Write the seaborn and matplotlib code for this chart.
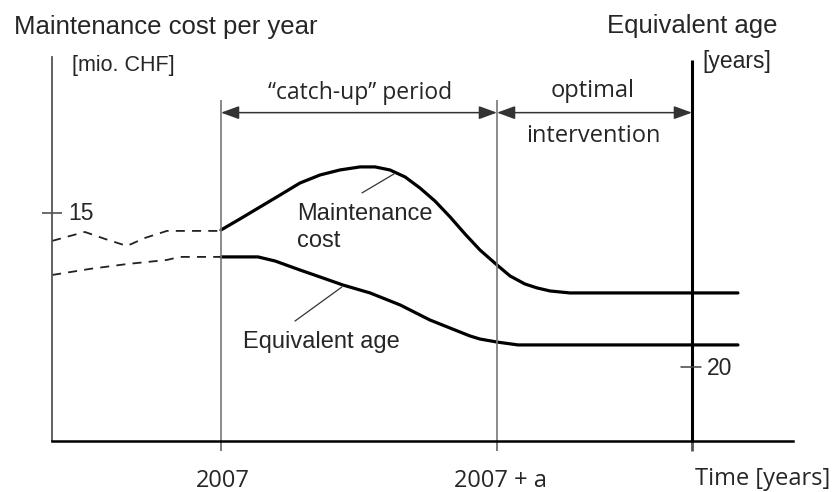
import matplotlib
matplotlib.use('Agg')
import matplotlib.pyplot as plt
import seaborn as sns

# time axis: years after 2007 (a = 10 for the sketch), cost in mio. CHF
hist_t = [-6.12, -5.47, -4.93, -4.20, -3.41, -2.75, -1.96, -1.12, 0.0]
hist_cost = [13.16, 13.49, 13.75, 13.29, 12.83, 13.36, 13.82, 13.82, 13.82]
hist_age_t = [-6.12, -4.75, -3.41, -1.96, -1.49, 0.0]
hist_age = [10.92, 11.32, 11.64, 11.91, 12.11, 12.11]

cost_t = [0.0, 0.69, 1.41, 2.14, 2.86, 3.59, 4.31, 5.04, 5.58, 6.12, 6.67,
          7.21, 7.75, 8.30, 8.84, 9.38, 10.0, 10.47, 11.01, 11.45, 11.92,
          12.64, 13.73, 18.73]
cost = [13.88, 14.61, 15.39, 16.18, 16.97, 17.50, 17.83, 18.03, 18.03, 17.83,
        17.37, 16.64, 15.79, 14.74, 13.62, 12.57, 11.58, 10.86, 10.33, 10.07,
        9.87, 9.74, 9.74, 9.74]

age_t = [0.0, 1.34, 1.96, 2.86, 3.59, 4.42, 5.40, 6.49, 7.57, 8.48, 9.02,
         9.38, 10.0, 10.76, 18.73]
age = [12.11, 12.11, 11.84, 11.25, 10.79, 10.26, 9.74, 8.95, 7.96, 7.30,
       6.91, 6.71, 6.51, 6.32, 6.32]

t_start, t_end, t_age_axis = 0.0, 10.0, 17.065
xticks = [t_start, t_end, t_age_axis]

sns.set_style('white')
plt.rcParams['font.family'] = ['Liberation Sans', 'DejaVu Sans']
myriad = ['Open Sans', 'DejaVu Sans']

fig = plt.figure(figsize=(8.33, 4.92), dpi=100)
ax = fig.add_axes([52 / 833, 51 / 492, 741 / 833, 384 / 492])


def fx(px):
    return px / 833


def fy(py):
    return 1 - py / 492


sns.lineplot(x=hist_t, y=hist_cost, ax=ax, color='#222', lw=1.3,
             dashes=False, linestyle=(0, (5, 4)))
sns.lineplot(x=hist_age_t, y=hist_age, ax=ax, color='#222', lw=1.3,
             linestyle=(0, (5, 4)))
sns.lineplot(x=cost_t, y=cost, ax=ax, color='black', lw=2.3)
sns.lineplot(x=age_t, y=age, ax=ax, color='black', lw=2.3)

ax.set_xlim(-6.123, 20.725)
ax.set_ylim(0, 25.26)

for s in ['top', 'right']:
    ax.spines[s].set_visible(False)
ax.spines['left'].set_color('#555')
ax.spines['left'].set_linewidth(1.3)
ax.spines['bottom'].set_color('black')
ax.spines['bottom'].set_linewidth(1.8)

ax.vlines([t_start, t_end], 0, 22.43, color='#777', lw=1.2)
ax.vlines([t_age_axis], 0, 25.07, color='black', lw=2.2)

ax.set_xticks(xticks)
ax.set_xticklabels([])
ax.tick_params(axis='x', direction='out', length=7, width=1.1, colors='#555',
               bottom=True)
ax.xaxis.get_major_ticks()[2].tick1line.set_color('black')
ax.xaxis.get_major_ticks()[2].tick1line.set_markeredgewidth(2.0)

ax.set_yticks([15])
ax.set_yticklabels([])
ax.tick_params(axis='y', direction='inout', length=14, width=1.1,
               colors='#444', left=True)

# equivalent age tick on the inner axis
ax.plot([t_age_axis - 0.38, t_age_axis + 0.34], [4.87, 4.87], color='#444',
        lw=1.1, clip_on=False)

# period arrows
arrow = dict(arrowstyle='<|-|>,head_length=0.55,head_width=0.2', lw=1.1,
             color='#333', mutation_scale=20, shrinkA=0, shrinkB=0)
ax.annotate('', xy=(t_end, 21.6), xytext=(t_start, 21.6), arrowprops=arrow)
ax.annotate('', xy=(t_age_axis, 21.6), xytext=(t_end, 21.6),
            arrowprops=arrow)

# leader lines
ax.plot([5.11, 6.27], [16.32, 17.57], color='#333', lw=0.9)
ax.plot([2.68, 4.38], [7.89, 10.13], color='#333', lw=0.9)

fig.text(fx(14), fy(34), 'Maintenance cost per year', fontsize=18.5,
         va='baseline')
fig.text(fx(607), fy(33), 'Equivalent age', fontsize=18.5, va='baseline')
fig.text(fx(72), fy(71), '[mio. CHF]', fontsize=15.5, va='baseline')
fig.text(fx(702), fy(68), '[years]', fontsize=16.5, va='baseline')
fig.text(fx(68), fy(220), '15', fontsize=16.5, va='baseline')
fig.text(fx(707), fy(375), '20', fontsize=16.5, va='baseline')
fig.text(fx(297), fy(220), 'Maintenance', fontsize=17, va='baseline')
fig.text(fx(297), fy(247), 'cost', fontsize=17, va='baseline')
fig.text(fx(243), fy(348), 'Equivalent age', fontsize=17, va='baseline')

fig.text(fx(360), fy(99), '\u201ccatch-up\u201d period', fontsize=16.5,
         ha='center', va='baseline', family=myriad)
fig.text(fx(593), fy(97), 'optimal', fontsize=17, ha='center',
         va='baseline', family=myriad)
fig.text(fx(593), fy(142), 'intervention', fontsize=17, ha='center',
         va='baseline', family=myriad)
fig.text(fx(223), fy(487), '2007', fontsize=17, ha='center', va='baseline',
         family=myriad)
fig.text(fx(500), fy(487), '2007 + a', fontsize=17, ha='center',
         va='baseline', family=myriad)
fig.text(fx(695), fy(485), 'Time [years]', fontsize=17, va='baseline',
         family=myriad)

fig.savefig('out.png', dpi=100)
